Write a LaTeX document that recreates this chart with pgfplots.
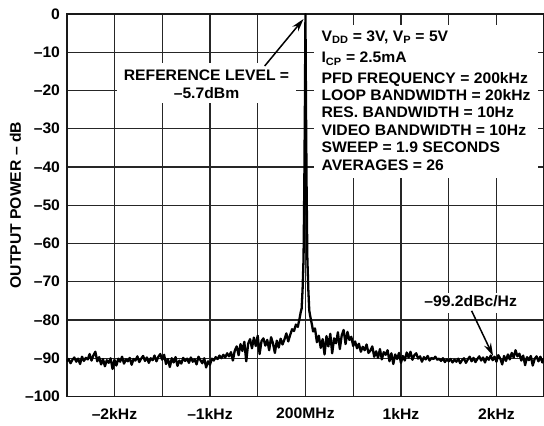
\documentclass[border=0pt]{standalone}
\usepackage{pgfplots}
\pgfplotsset{compat=1.18}
\usepackage{fontspec}
\setmainfont[FakeStretch=1.03]{Liberation Sans}
\usetikzlibrary{arrows.meta}
\newcommand\lbl{\fontsize{15.3}{18.3}\selectfont\bfseries}
\begin{document}
\begin{tikzpicture}
\begin{axis}[
  scale only axis, width=477.5bp, height=382.5bp,
  xmin=-2.5, xmax=2.5, ymin=-100, ymax=0,
  xtick={-2,-1.5,-1,-0.5,0,0.5,1,1.5,2},
  xticklabels={–2kHz,,–1kHz,,200MHz,,1kHz,,2kHz},
  ytick={-100,-90,-80,-70,-60,-50,-40,-30,-20,-10,0},
  yticklabels={–100,–90,–80,–70,–60,–50,–40,–30,–20,–10,0},
  grid=major,
  major grid style={line width=1.2bp, color=black!85},
  axis line style={line width=1.9bp, color=black!90},
  major tick length=0pt,
  tick label style={font=\lbl, color=black},
  yticklabel style={xshift=-3.2bp},
  xticklabel style={yshift=-8.0bp},
  ylabel={OUTPUT POWER – dB},
  ylabel style={font=\lbl, at={(axis description cs:-0.1076,0.5)}, anchor=center},
  clip=true,
]
\fill[white] (axis cs:-1.97,-12.8) rectangle (axis cs:-0.104,-23.3);
\fill[white] (axis cs:0.094,-2.9) rectangle (axis cs:2.44,-42.9);
\fill[white] (axis cs:1.19,-72.9) rectangle (axis cs:2.28,-78.2);
\addplot[line width=2.3bp, black, line join=round] coordinates {
(-2.50,-90.8) (-2.48,-90.2) (-2.46,-91.3) (-2.44,-90.4) (-2.42,-89.8) (-2.40,-90.9)
(-2.38,-90.1) (-2.36,-91.5) (-2.34,-89.6) (-2.32,-90.7) (-2.30,-89.9) (-2.28,-90.3)
(-2.26,-88.9) (-2.24,-90.6) (-2.22,-89.2) (-2.20,-88.3) (-2.18,-90.8) (-2.16,-89.7)
(-2.14,-91.6) (-2.12,-90.2) (-2.10,-92.1) (-2.08,-90.5) (-2.06,-91.2) (-2.04,-90.0)
(-2.02,-92.8) (-2.00,-90.4) (-1.98,-91.9) (-1.96,-90.1) (-1.94,-90.9) (-1.92,-89.6)
(-1.90,-91.4) (-1.88,-90.3) (-1.86,-90.8) (-1.84,-89.9) (-1.82,-91.7) (-1.80,-90.2)
(-1.78,-90.6) (-1.76,-89.5) (-1.74,-91.0) (-1.72,-90.1) (-1.70,-89.4) (-1.68,-90.7)
(-1.66,-89.8) (-1.64,-91.2) (-1.62,-90.0) (-1.60,-90.5) (-1.58,-89.3) (-1.56,-90.8)
(-1.54,-89.6) (-1.52,-88.9) (-1.50,-90.4) (-1.48,-89.1) (-1.46,-91.5) (-1.44,-90.2)
(-1.42,-92.3) (-1.40,-90.0) (-1.38,-91.1) (-1.36,-89.7) (-1.34,-92.0) (-1.32,-90.6)
(-1.30,-91.4) (-1.28,-89.9) (-1.26,-90.7) (-1.24,-90.1) (-1.22,-91.2) (-1.20,-89.8)
(-1.18,-90.9) (-1.16,-90.3) (-1.14,-91.6) (-1.12,-89.6) (-1.10,-90.5) (-1.08,-91.3)
(-1.06,-90.0) (-1.04,-92.4) (-1.02,-90.8) (-1.00,-91.7) (-0.98,-90.1) (-0.96,-90.6)
(-0.94,-89.7) (-0.92,-90.2) (-0.90,-89.3) (-0.88,-90.0) (-0.86,-89.1) (-0.84,-89.8)
(-0.82,-88.7) (-0.80,-89.5) (-0.78,-88.4) (-0.76,-90.6) (-0.74,-88.0) (-0.72,-86.9)
(-0.70,-89.2) (-0.68,-86.3) (-0.66,-88.1) (-0.64,-85.7) (-0.62,-90.8) (-0.60,-86.2)
(-0.58,-85.0) (-0.56,-87.4) (-0.54,-84.6) (-0.52,-86.8) (-0.50,-84.1) (-0.48,-88.9)
(-0.46,-85.5) (-0.44,-84.8) (-0.42,-86.7) (-0.40,-85.2) (-0.38,-87.9) (-0.36,-84.5)
(-0.34,-86.1) (-0.32,-88.6) (-0.30,-85.4) (-0.28,-87.2) (-0.26,-84.9) (-0.24,-86.4)
(-0.22,-85.1) (-0.20,-83.5) (-0.18,-85.6) (-0.16,-83.9) (-0.14,-82.4) (-0.12,-82.9)
(-0.10,-81.2) (-0.08,-81.8) (-0.06,-79.4) (-0.05,-78.0) (-0.04,-77.0) (-0.03,-72.0)
(-0.02,-64.0) (-0.012,-45.0) (-0.006,-25.0) (0.00,0.0) (0.006,-25.0) (0.012,-45.0)
(0.02,-64.0) (0.03,-72.0) (0.04,-77.5) (0.05,-79.0) (0.06,-80.2) (0.07,-81.5)
(0.08,-83.0) (0.10,-82.2) (0.12,-85.8) (0.14,-84.1) (0.16,-87.3) (0.18,-85.0)
(0.20,-89.0) (0.22,-84.2) (0.24,-86.9) (0.26,-83.6) (0.28,-88.7) (0.30,-84.8)
(0.32,-86.1) (0.34,-83.2) (0.36,-87.6) (0.38,-84.0) (0.40,-82.6) (0.42,-86.3)
(0.44,-83.1) (0.46,-85.2) (0.48,-84.4) (0.50,-86.8) (0.52,-85.6) (0.54,-87.4)
(0.56,-86.2) (0.58,-88.3) (0.60,-87.0) (0.62,-87.9) (0.64,-86.4) (0.66,-88.6)
(0.68,-88.0) (0.70,-86.9) (0.72,-89.6) (0.74,-88.2) (0.76,-89.9) (0.78,-87.6)
(0.80,-90.3) (0.82,-88.4) (0.84,-89.1) (0.86,-87.9) (0.88,-90.8) (0.90,-88.7)
(0.92,-91.5) (0.94,-89.0) (0.96,-90.2) (0.98,-88.6) (1.00,-91.2) (1.02,-89.4)
(1.04,-90.6) (1.06,-88.5) (1.08,-89.8) (1.10,-88.3) (1.12,-90.4) (1.14,-89.2)
(1.16,-88.7) (1.18,-90.1) (1.20,-89.5) (1.22,-90.9) (1.24,-89.7) (1.26,-90.3)
(1.28,-89.4) (1.30,-90.6) (1.32,-89.9) (1.34,-90.2) (1.36,-89.6) (1.38,-90.4)
(1.40,-90.1) (1.42,-90.7) (1.44,-90.0) (1.46,-91.0) (1.48,-90.3) (1.50,-90.8)
(1.52,-90.2) (1.54,-91.1) (1.56,-90.4) (1.58,-90.9) (1.60,-90.1) (1.62,-91.3)
(1.64,-90.5) (1.66,-90.0) (1.68,-91.2) (1.70,-90.3) (1.72,-89.6) (1.74,-90.8)
(1.76,-89.9) (1.78,-91.0) (1.80,-90.2) (1.82,-89.5) (1.84,-90.6) (1.86,-89.8)
(1.88,-91.1) (1.90,-89.7) (1.92,-90.4) (1.94,-89.3) (1.96,-90.5) (1.98,-89.6)
(2.00,-90.9) (2.02,-89.2) (2.04,-90.1) (2.06,-91.6) (2.08,-89.4) (2.10,-90.7)
(2.12,-89.0) (2.14,-90.3) (2.16,-88.6) (2.18,-89.8) (2.20,-87.9) (2.22,-89.5)
(2.24,-88.8) (2.26,-90.6) (2.28,-89.3) (2.30,-91.8) (2.32,-89.7) (2.34,-90.5)
(2.36,-89.4) (2.38,-91.9) (2.40,-90.2) (2.42,-89.5) (2.44,-90.8) (2.46,-89.6)
(2.48,-91.1) (2.50,-90.0)
};
\node[font=\lbl, align=center] at (axis cs:-1.036,-18.4) {REFERENCE LEVEL =\\–5.7dBm};
\draw[line width=1.5bp, -{Stealth[length=13bp,width=7.5bp]}] (axis cs:-0.427,-13.6) -- (axis cs:-0.02,-1.3);
\node[font=\lbl, anchor=base west, inner sep=0pt] at (axis cs:0.167,-7.06) {V\textsubscript{DD} = 3V, V\textsubscript{P} = 5V};
\node[font=\lbl, anchor=base west, inner sep=0pt] at (axis cs:0.167,-12.81) {I\textsubscript{CP} = 2.5mA};
\node[font=\lbl, anchor=base west, inner sep=0pt] at (axis cs:0.167,-18.04) {PFD FREQUENCY = 200kHz};
\node[font=\lbl, anchor=base west, inner sep=0pt] at (axis cs:0.167,-22.61) {LOOP BANDWIDTH = 20kHz};
\node[font=\lbl, anchor=base west, inner sep=0pt] at (axis cs:0.167,-27.19) {RES. BANDWIDTH = 10Hz};
\node[font=\lbl, anchor=base west, inner sep=0pt] at (axis cs:0.167,-31.76) {VIDEO BANDWIDTH = 10Hz};
\node[font=\lbl, anchor=base west, inner sep=0pt] at (axis cs:0.167,-36.34) {SWEEP = 1.9 SECONDS};
\node[font=\lbl, anchor=base west, inner sep=0pt] at (axis cs:0.167,-40.92) {AVERAGES = 26};
\node[font=\lbl] at (axis cs:1.73,-75.0) {–99.2dBc/Hz};
\draw[line width=1.5bp, -{Stealth[length=13bp,width=7.5bp]}] (axis cs:1.74,-77.6) -- (axis cs:1.965,-89.4);
\end{axis}
\pgfresetboundingbox
\path (-66.7bp,-29.5bp) rectangle (477.3bp,396.5bp);
\end{tikzpicture}
\end{document}
